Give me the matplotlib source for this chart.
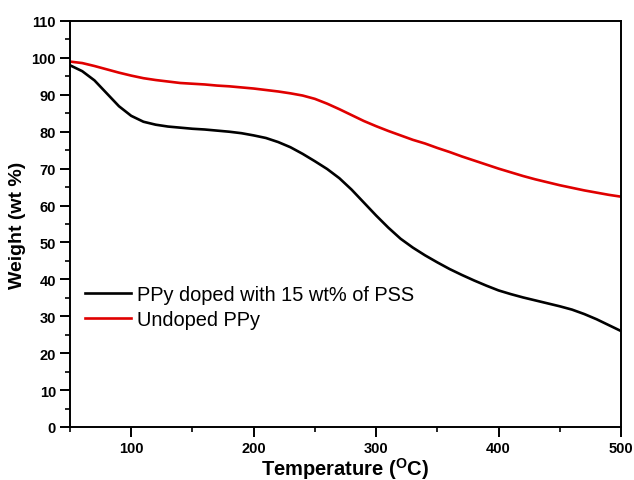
import numpy as np
import matplotlib
matplotlib.use('Agg')
import matplotlib.pyplot as plt
from matplotlib.ticker import MultipleLocator

plt.rcParams['font.family'] = ['Liberation Sans', 'DejaVu Sans']
plt.rcParams['mathtext.fontset'] = 'custom'
plt.rcParams['mathtext.bf'] = 'Liberation Sans:bold'
plt.rcParams['mathtext.rm'] = 'Liberation Sans:bold'

# === Daten ===
temperature = list(range(50, 501, 10))

weight_doped = [98.0, 96.4, 93.9, 90.4, 86.9, 84.3, 82.7, 81.9, 81.4, 81.1,
                80.8, 80.6, 80.3, 80.0, 79.6, 79.0, 78.3, 77.2, 75.8, 74.0,
                72.0, 69.9, 67.4, 64.3, 60.8, 57.3, 54.0, 51.0, 48.6, 46.5,
                44.6, 42.8, 41.2, 39.7, 38.3, 37.0, 36.0, 35.1, 34.3, 33.5,
                32.7, 31.8, 30.6, 29.2, 27.6, 26.0]

weight_undoped = [99.0, 98.6, 97.8, 96.9, 96.0, 95.2, 94.5, 94.0, 93.6, 93.2,
                  93.0, 92.8, 92.5, 92.3, 92.0, 91.7, 91.3, 90.9, 90.4, 89.8,
                  88.9, 87.6, 86.1, 84.5, 82.9, 81.5, 80.2, 79.0, 77.8, 76.8,
                  75.6, 74.5, 73.3, 72.2, 71.1, 70.0, 69.0, 68.0, 67.1, 66.3,
                  65.5, 64.8, 64.1, 63.5, 62.9, 62.4]

labels = ['PPy doped with 15 wt% of PSS', 'Undoped PPy']

# === Plot ===
fig = plt.figure(figsize=(6.34, 4.81), dpi=100)
ax = fig.add_axes([0.1104, 0.1102, 0.8691, 0.8441])

ax.plot(temperature, weight_doped, color='black', lw=1.9, label=labels[0])
ax.plot(temperature, weight_undoped, color='#e00000', lw=1.9, label=labels[1])

ax.set_xlim(50, 500)
ax.set_ylim(0, 110)
ax.xaxis.set_major_locator(MultipleLocator(100))
ax.xaxis.set_minor_locator(MultipleLocator(50))
ax.yaxis.set_major_locator(MultipleLocator(10))
ax.yaxis.set_minor_locator(MultipleLocator(5))
ax.tick_params(which='major', direction='out', length=7, width=1.4,
               labelsize=10.5, pad=3)
ax.tick_params(which='minor', direction='out', length=3.8, width=1.2)
for lbl in ax.get_xticklabels() + ax.get_yticklabels():
    lbl.set_fontweight('bold')
for s in ax.spines.values():
    s.set_linewidth(1.4)

ax.set_xlabel(r'Temperature ($^{\mathbf{O}}$C)', fontsize=14.5, fontweight='bold', labelpad=0)
ax.set_ylabel('Weight (wt %)', fontsize=14, fontweight='bold', labelpad=4)

ax.legend(loc='upper left', bbox_to_anchor=(0.027, 0.350), frameon=False,
          fontsize=14.4, handlelength=2.3, handletextpad=0.3, labelspacing=0.3,
          borderaxespad=0, borderpad=0)

fig.savefig('out.png', dpi=100)
